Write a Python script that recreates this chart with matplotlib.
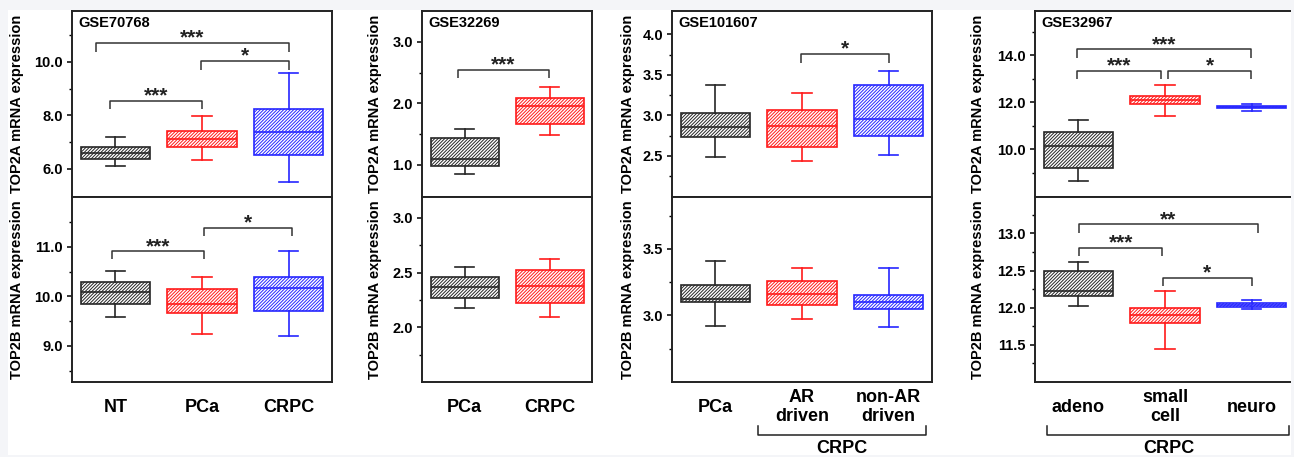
import matplotlib
matplotlib.use("Agg")
import matplotlib.pyplot as plt
from matplotlib.patches import Rectangle
from matplotlib.transforms import blended_transform_factory

plt.rcParams["font.family"] = ["Liberation Sans", "DejaVu Sans"]
plt.rcParams["font.weight"] = "bold"
plt.rcParams["hatch.linewidth"] = 0.7

# box stats per group: (whislo, q1, median, q3, whishi)
GSE70768_TOP2A = [(6.09, 6.37, 6.59, 6.82, 7.18), (6.32, 6.80, 7.11, 7.41, 7.96), (5.51, 6.51, 7.38, 8.25, 9.59)]
GSE70768_TOP2B = [(9.58, 9.85, 10.09, 10.29, 10.52), (9.24, 9.67, 9.84, 10.15, 10.40), (9.20, 9.71, 10.17, 10.40, 10.92)]
GSE32269_TOP2A = [(0.85, 0.99, 1.09, 1.44, 1.58), (1.48, 1.66, 1.95, 2.09, 2.27)]
GSE32269_TOP2B = [(2.18, 2.27, 2.365, 2.46, 2.55), (2.09, 2.22, 2.38, 2.52, 2.62)]
GSE101607_TOP2A = [(2.48, 2.73, 2.85, 3.03, 3.37), (2.44, 2.61, 2.87, 3.06, 3.27), (2.51, 2.74, 2.96, 3.37, 3.55)]
GSE101607_TOP2B = [(2.92, 3.10, 3.12, 3.23, 3.41), (2.97, 3.08, 3.16, 3.26, 3.36), (2.91, 3.05, 3.10, 3.15, 3.36)]
GSE32967_TOP2A = [(8.66, 9.22, 10.14, 10.72, 11.23), (11.42, 11.92, 12.12, 12.28, 12.74), (11.64, 11.74, 11.80, 11.86, 11.94)]
GSE32967_TOP2B = [(12.02, 12.16, 12.23, 12.49, 12.61), (11.45, 11.79, 11.90, 12.00, 12.23), (11.98, 12.01, 12.035, 12.06, 12.11)]

# significance brackets: (x_left, x_right, y_bar, y_end, stars)
SIG_70768_A = [(0.78, 3.0, 10.71, 10.37, "***"), (1.99, 3.0, 10.04, 9.70, "*"), (0.94, 2.0, 8.54, 8.24, "***")]
SIG_70768_B = [(0.96, 2.02, 10.91, 10.76, "***"), (2.02, 3.04, 11.38, 11.23, "*")]
SIG_32269_A = [(0.92, 1.99, 2.55, 2.41, "***")]
SIG_32269_B = []
SIG_101607_A = [(1.99, 3.0, 3.76, 3.65, "*")]
SIG_101607_B = []
SIG_32967_A = [(0.98, 2.99, 14.26, 13.91, "***"), (0.98, 1.95, 13.33, 12.98, "***"), (2.04, 2.99, 13.33, 12.98, "*")]
SIG_32967_B = [(1.01, 3.07, 13.12, 13.00, "**"), (1.01, 1.97, 12.81, 12.70, "***"), (1.98, 3.0, 12.40, 12.29, "*")]

BLACK, RED, BLUE = "#262626", "#ff1a1a", "#2626ff"
W, H = 1294, 457

panels = [
    dict(name="GSE70768", x0=72, x1=332, labels=["NT", "PCa", "CRPC"], colors=[BLACK, RED, BLUE],
         top=GSE70768_TOP2A, bot=GSE70768_TOP2B, sig_top=SIG_70768_A, sig_bot=SIG_70768_B,
         ylim_top=(4.95, 11.9), major_top=[6, 8, 10], minor_top=[7, 9, 11],
         ylim_bot=(8.27, 12.01), major_bot=[9, 10, 11], minor_bot=[8.5, 9.5, 10.5, 11.5],
         ylab_dx=-55, group=None),
    dict(name="GSE32269", x0=422, x1=592, labels=["PCa", "CRPC"], colors=[BLACK, RED],
         top=GSE32269_TOP2A, bot=GSE32269_TOP2B, sig_top=SIG_32269_A, sig_bot=SIG_32269_B,
         ylim_top=(0.48, 3.5), major_top=[1, 2, 3], minor_top=[1.5, 2.5],
         ylim_bot=(1.5, 3.19), major_bot=[2.0, 2.5, 3.0], minor_bot=[1.75, 2.25, 2.75],
         ylab_dx=-47, group=None),
    dict(name="GSE101607", x0=672, x1=932, labels=["PCa", "AR\ndriven", "non-AR\ndriven"],
         colors=[BLACK, RED, BLUE],
         top=GSE101607_TOP2A, bot=GSE101607_TOP2B, sig_top=SIG_101607_A, sig_bot=SIG_101607_B,
         ylim_top=(1.99, 4.29), major_top=[2.5, 3.0, 3.5, 4.0], minor_top=[2.25, 2.75, 3.25, 3.75],
         ylim_bot=(2.5, 3.89), major_bot=[3.0, 3.5], minor_bot=[2.75, 3.25, 3.75],
         ylab_dx=-44, group=(1.49, 3.43, 2.46)),
    dict(name="GSE32967", x0=1035, x1=1295, labels=["adeno", "small\ncell", "neuro"],
         colors=[BLACK, RED, BLUE],
         top=GSE32967_TOP2A, bot=GSE32967_TOP2B, sig_top=SIG_32967_A, sig_bot=SIG_32967_B,
         ylim_top=(7.97, 15.89), major_top=[10, 12, 14], minor_top=[9, 11, 13, 15],
         ylim_bot=(11.0, 13.49), major_bot=[11.5, 12.0, 12.5, 13.0],
         minor_bot=[11.25, 11.75, 12.25, 12.75, 13.25],
         ylab_dx=-57, group=(0.64, 3.43, 2.05)),
]


def draw_boxes(ax, data, colors):
    stats = [dict(whislo=d[0], q1=d[1], med=d[2], q3=d[3], whishi=d[4], fliers=[]) for d in data]
    art = ax.bxp(stats, positions=range(1, len(data) + 1), widths=0.8, capwidths=0.22,
                 patch_artist=True, showfliers=False, manage_ticks=False)
    for i, c in enumerate(colors):
        box = art["boxes"][i]
        box.set_facecolor("white")
        box.set_edgecolor(c)
        box.set_hatch("/" * 10)
        box.set_linewidth(1.2)
        art["medians"][i].set_color(c)
        art["medians"][i].set_linewidth(1.2)
        for ln in art["whiskers"][2 * i:2 * i + 2] + art["caps"][2 * i:2 * i + 2]:
            ln.set_color(c)
            ln.set_linewidth(1.2)


def draw_sig(ax, sigs):
    for xl, xr, yb, ye, s in sigs:
        ax.plot([xl, xl, xr, xr], [ye, yb, yb, ye], color="#333333", lw=1.1, solid_capstyle="butt")
        ax.annotate(s, xy=((xl + xr) / 2, yb), xytext=(0, -0.5), textcoords="offset points",
                    ha="center", va="baseline", fontsize=15, fontweight="bold", color="#222222")


def style_axis(ax, ylim, major, minor):
    ax.set_ylim(*ylim)
    ax.set_yticks(major)
    ax.set_yticks(minor, minor=True)
    ax.set_yticklabels([f"{v:.1f}" for v in major])
    ax.tick_params(axis="y", which="major", direction="out", length=3.5, width=1.1, pad=3, labelsize=10.5)
    ax.tick_params(axis="y", which="minor", direction="out", length=2.2, width=1.0)
    ax.tick_params(axis="x", length=0)
    for sp in ax.spines.values():
        sp.set_linewidth(1.4)
        sp.set_color("#222222")


fig = plt.figure(figsize=(W / 100, H / 100), dpi=100)
fig.patch.set_facecolor("white")

top_b, top_h = (H - 197) / H, 186 / H
bot_b, bot_h = (H - 382) / H, 185 / H

for p in panels:
    left, width = p["x0"] / W, (p["x1"] - p["x0"]) / W
    n = len(p["labels"])
    ax_t = fig.add_axes([left, top_b, width, top_h])
    ax_b = fig.add_axes([left, bot_b, width, bot_h])

    draw_boxes(ax_t, p["top"], p["colors"])
    draw_boxes(ax_b, p["bot"], p["colors"])
    draw_sig(ax_t, p["sig_top"])
    draw_sig(ax_b, p["sig_bot"])

    for ax, ylim, mj, mn, lab in [(ax_t, p["ylim_top"], p["major_top"], p["minor_top"], "TOP2A mRNA expression"),
                                  (ax_b, p["ylim_bot"], p["major_bot"], p["minor_bot"], "TOP2B mRNA expression")]:
        style_axis(ax, ylim, mj, mn)
        ax.set_xlim(0.5, n + 0.5)
        ax.annotate(lab, xy=(0, 0.5), xycoords="axes fraction", xytext=(p["ylab_dx"], 0),
                    textcoords="offset pixels", rotation=90, ha="center", va="center",
                    fontsize=10.5, fontweight="bold")

    ax_t.set_xticks([])
    ax_t.annotate(p["name"], xy=(0, 1), xycoords="axes fraction", xytext=(6, -12),
                  textcoords="offset pixels", ha="left", va="center", fontsize=10.5, fontweight="bold")

    ax_b.set_xticks(range(1, n + 1))
    ax_b.set_xticklabels(p["labels"], fontsize=13, fontweight="bold", linespacing=1.15)
    ax_b.tick_params(axis="x", pad=18)
    for t in ax_b.get_xticklabels():
        t.set_verticalalignment("center")

    if p["group"] is not None:
        gl, gr, gc = p["group"]
        tr = blended_transform_factory(ax_b.transData, ax_b.transAxes)
        ax_b.plot([gl, gl, gr, gr], [-0.238, -0.286, -0.286, -0.238], color="#222222", lw=1.1,
                  transform=tr, clip_on=False)
        ax_b.text(gc, -0.357, "CRPC", transform=tr, ha="center", va="center",
                  fontsize=13, fontweight="bold")

# light frame around the canvas
frame = "#f4f5f8"
for x, y, w, h in [(0, 0, 8, H), (0, 0, W, 2), (0, H - 10, W, 10), (1291, 0, 3, H)]:
    fig.add_artist(Rectangle((x / W, y / H), w / W, h / H, transform=fig.transFigure,
                             facecolor=frame, edgecolor="none", zorder=100))

fig.savefig("out.png", dpi=100)
